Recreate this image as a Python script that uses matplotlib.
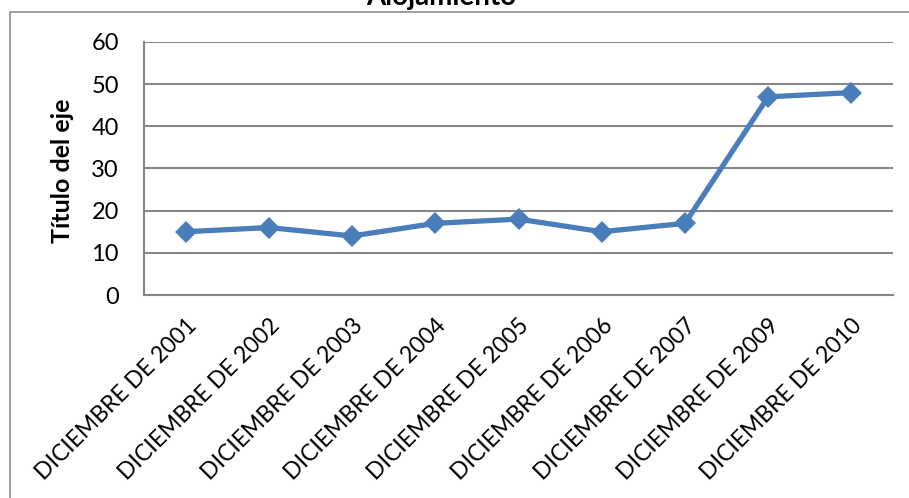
import matplotlib
matplotlib.use("Agg")
import matplotlib.pyplot as plt
from matplotlib.patches import Rectangle

categories = ["DICIEMBRE DE 2001", "DICIEMBRE DE 2002", "DICIEMBRE DE 2003",
              "DICIEMBRE DE 2004", "DICIEMBRE DE 2005", "DICIEMBRE DE 2006",
              "DICIEMBRE DE 2007", "DICIEMBRE DE 2009", "DICIEMBRE DE 2010"]
values = [15, 16, 14, 17, 18, 15, 17, 47, 48]
y_ticks = [0, 10, 20, 30, 40, 50, 60]
title = "Alojamiento"
y_label = "Título del eje"

plt.rcParams["font.family"] = ["Lato", "DejaVu Sans"]

W, H = 909, 498
fig = plt.figure(figsize=(W / 100, H / 100), dpi=100)

# outer chart border (extends past right/bottom edges)
fig.patches.append(Rectangle((10 / W, -0.1), 1.2, (H - 12) / H + 0.1,
                             transform=fig.transFigure, fill=False,
                             edgecolor="#8c8c8c", linewidth=1.2))

left, right = 144 / W, 893 / W
bottom, top = 1 - 295 / H, 1 - 42 / H
ax = fig.add_axes([left, bottom, right - left, top - bottom])

x = list(range(len(categories)))
ax.plot(x, values, color="#4A7EBB", linewidth=3.8, marker="D",
        markersize=11, markeredgewidth=0, solid_joinstyle="round", zorder=3)

ax.set_xlim(-0.5, len(categories) - 0.5)
ax.set_ylim(0, 60)
ax.set_yticks(y_ticks)
ax.set_yticklabels([str(v) for v in y_ticks], fontsize=17)
ax.set_xticks(x)
ax.set_xticklabels(categories, rotation=45, ha="right", va="top",
                   rotation_mode="anchor", fontsize=16.5)
ax.tick_params(axis="both", length=0, colors="black")
ax.tick_params(axis="y", pad=18)
ax.tick_params(axis="x", pad=14)

ax.grid(axis="y", color="#868686", linewidth=1.5)
ax.set_axisbelow(True)
for side in ("top", "right"):
    ax.spines[side].set_visible(False)
for side in ("left", "bottom"):
    ax.spines[side].set_color("#868686")
    ax.spines[side].set_linewidth(1.5)

fig.text(63 / W, 1 - 171 / H, y_label, rotation=90, ha="center", va="center",
         fontsize=18, fontweight="bold")
fig.text(441 / W, 1 - 5 / H, title, ha="center", va="baseline",
         fontsize=20, fontweight="bold")

fig.savefig("out.png", dpi=100)
